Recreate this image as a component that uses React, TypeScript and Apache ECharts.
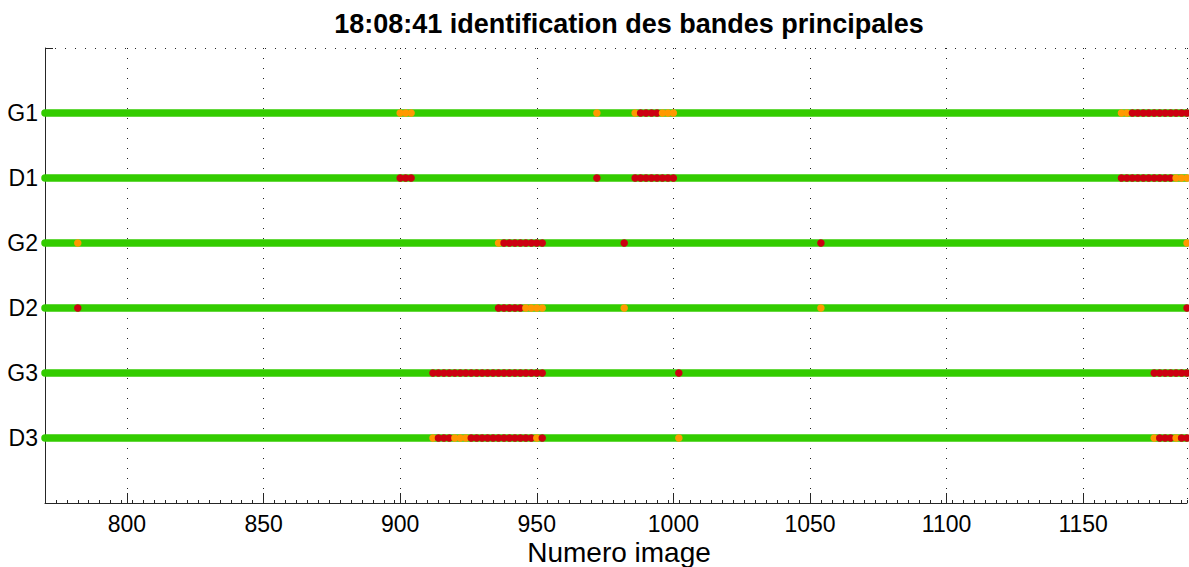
import React, { useEffect, useRef } from "react";
import * as echarts from "echarts";

// Rows from bottom (y = 1) to top (y = 6)
const rowNames = ["D3", "G3", "D2", "G2", "D1", "G1"];
const firstImage = 770;
const lastImage = 1188;
const titleText = "18:08:41 identification des bandes principales";
const xAxisName = "Numero image";

const orangeG1 = [900, 902, 904, 972, 986, 996, 998, 1000, 1164, 1166];
const redG1 = [988, 990, 992, 994, 1168, 1170, 1172, 1174, 1176, 1178, 1180, 1182, 1184, 1186, 1188];
const orangeD1 = [1184, 1186, 1188];
const redD1 = [900, 902, 904, 972, 986, 988, 990, 992, 994, 996, 998, 1000, 1164, 1166, 1168, 1170, 1172, 1174, 1176, 1178, 1180, 1182];
const orangeG2 = [782, 936, 1188];
const redG2 = [938, 940, 942, 944, 946, 948, 950, 952, 982, 1054];
const orangeD2 = [946, 948, 950, 952, 982, 1054];
const redD2 = [782, 936, 938, 940, 942, 944, 1188];
const orangeG3: number[] = [];
const redG3 = [912, 914, 916, 918, 920, 922, 924, 926, 928, 930, 932, 934, 936, 938, 940, 942, 944, 946, 948, 950, 952, 1002, 1176, 1178, 1180, 1182, 1184, 1186, 1188];
const orangeD3 = [912, 920, 922, 924, 950, 1002, 1176, 1184];
const redD3 = [914, 916, 918, 926, 928, 930, 932, 934, 936, 938, 940, 942, 944, 946, 948, 952, 1178, 1180, 1182, 1186, 1188];

const orangeByRow = [orangeD3, orangeG3, orangeD2, orangeG2, orangeD1, orangeG1];
const redByRow = [redD3, redG3, redD2, redG2, redD1, redG1];

const GREEN = "#33cc00";
const ORANGE = "#ff9900";
const RED = "#cc0010";
const FONT = "'Liberation Sans', Arial, Helvetica, sans-serif";

export default function App() {
  const ref = useRef<HTMLDivElement>(null);
  useEffect(() => {
    if (!ref.current) return;
    const chart = echarts.init(ref.current, undefined, { renderer: "svg" });
    const series: any[] = [];
    rowNames.forEach((_, i) => {
      const y = i + 1;
      series.push({
        type: "line",
        data: [[firstImage, y], [lastImage, y]],
        symbol: "none",
        lineStyle: { color: GREEN, width: 7.5, cap: "round", opacity: 1 },
        silent: true,
        clip: false,
        z: 2,
      });
      const pts = [
        ...orangeByRow[i].map((x) => ({ x, c: ORANGE })),
        ...redByRow[i].map((x) => ({ x, c: RED })),
      ].sort((a, b) => a.x - b.x);
      series.push({
        type: "scatter",
        symbolSize: 7.5,
        clip: false,
        z: 3,
        itemStyle: { opacity: 1 },
        data: pts.map((p) => ({ value: [p.x, y], itemStyle: { color: p.c, opacity: 1 } })),
      });
    });
    chart.setOption({
      animation: false,
      textStyle: { fontFamily: FONT },
      title: {
        text: titleText,
        left: 624,
        top: 5,
        textAlign: "center",
        textStyle: { fontSize: 27, fontWeight: "bold", color: "#000", fontFamily: FONT },
      },
      graphic: [
        {
          type: "text",
          x: 619,
          y: 552.5,
          style: {
            text: xAxisName,
            fill: "#000",
            font: "28px " + FONT,
            align: "center",
            verticalAlign: "middle",
          },
        },
      ],
      grid: { left: 45, right: 2, top: 48, bottom: 64, containLabel: false, outerBoundsMode: "none" },
      xAxis: [
        {
          type: "value",
          min: firstImage,
          max: lastImage,
          splitNumber: 8,
          axisLine: { show: true, lineStyle: { color: "#262626", width: 1 } },
          axisTick: { show: true, inside: true, length: 10, lineStyle: { color: "#262626" } },
          axisLabel: {
            show: true,
            fontSize: 23,
            color: "#000",
            margin: 9,
            fontFamily: FONT,
            showMinLabel: false,
            showMaxLabel: false,
            formatter: (v: number) => String(v),
          },
          splitLine: { show: true, lineStyle: { color: "#222", width: 1, type: [1, 9] } },
        },
        {
          type: "value",
          min: firstImage,
          max: lastImage,
          interval: 4,
          position: "bottom",
          axisLine: { show: false },
          axisTick: { show: true, inside: true, length: 3, lineStyle: { color: "#262626" } },
          axisLabel: { show: false },
          splitLine: { show: false },
        },
      ],
      yAxis: {
        type: "value",
        min: 0,
        max: 7,
        interval: 1,
        axisLine: { show: true, lineStyle: { color: "#262626", width: 1 } },
        axisTick: { show: true, inside: true, length: 8, lineStyle: { color: "#262626" } },
        axisLabel: {
          fontSize: 23,
          color: "#000",
          margin: 7,
          fontFamily: FONT,
          formatter: (v: number) => (v >= 1 && v <= 6 ? rowNames[v - 1] : ""),
        },
        splitLine: { show: true, lineStyle: { color: "#222", width: 1, type: [1, 9] } },
      },
      series,
    });
    return () => chart.dispose();
  }, []);
  return <div ref={ref} style={{ position: "absolute", left: 0, top: 0, width: 1189, height: 567, background: "#fff" }} />;
}
